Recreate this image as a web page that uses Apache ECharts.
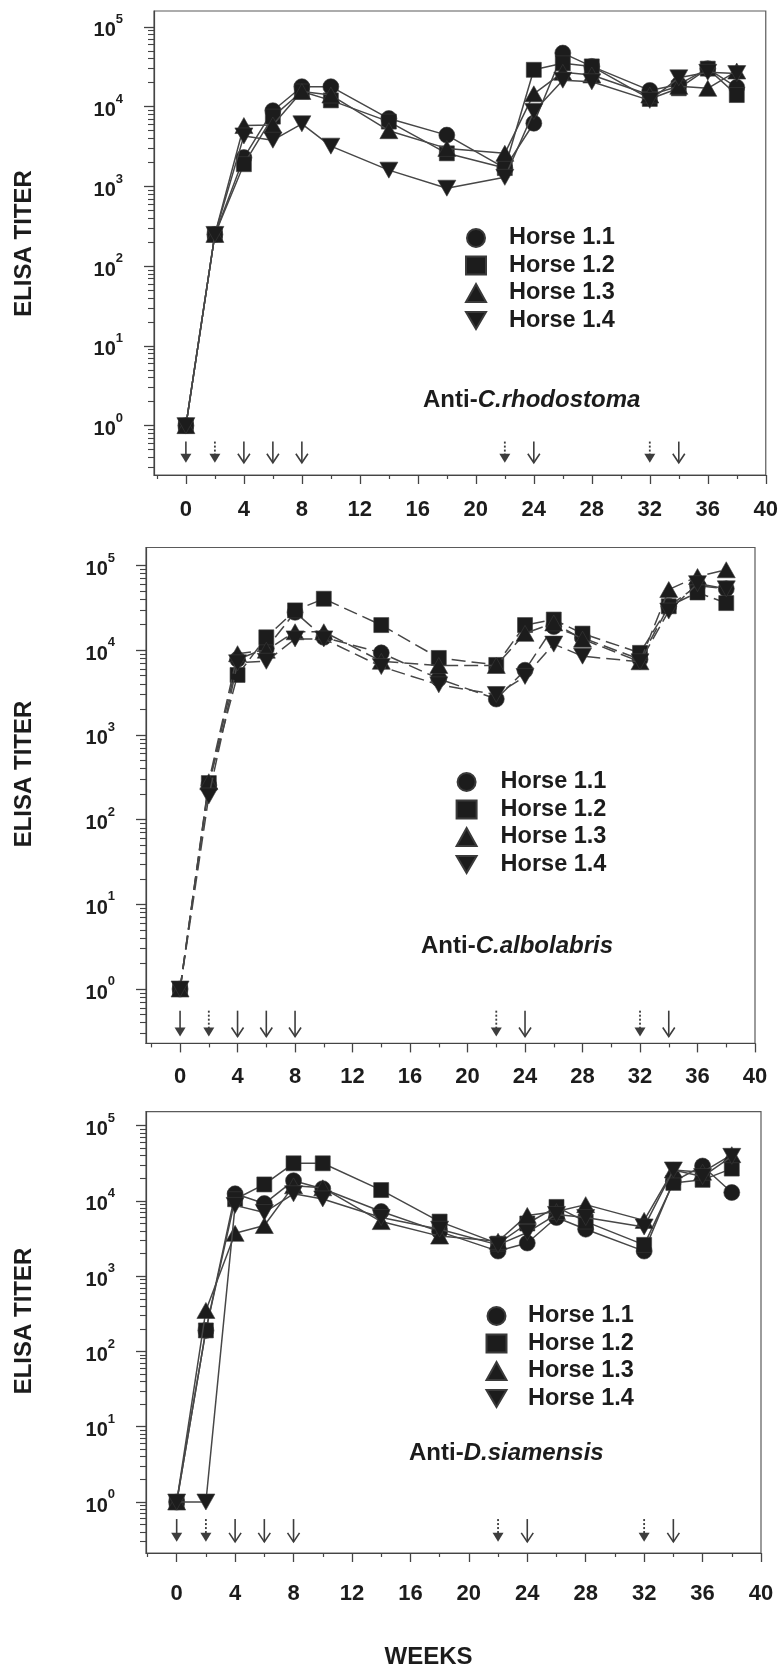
<!DOCTYPE html>
<html><head><meta charset="utf-8">
<script src="https://cdn.jsdelivr.net/npm/echarts@6/dist/echarts.min.js"></script>
<style>html,body{margin:0;padding:0;background:#fff;}#c{width:781px;height:1671px;}</style>
</head><body><div id="c"></div>
<script>
// ---------------- DATA ----------------
const weeks = [0, 2, 4, 6, 8, 10, 14, 18, 22, 24, 26, 28, 32, 34, 36, 38];
const horseNames = ['Horse 1.1', 'Horse 1.2', 'Horse 1.3', 'Horse 1.4'];

// Anti-C.rhodostoma
const rhodostoma_h11 = [1, 250, 2300, 8900, 17800, 17800, 7100, 4400, 1700, 6200, 47000, 32000, 16000, 19000, 30000, 17500];
const rhodostoma_h12 = [1, 250, 1900, 7500, 15500, 12000, 6500, 2600, 1700, 29000, 35000, 32000, 12500, 17000, 30000, 14000];
const rhodostoma_h13 = [1, 250, 5800, 5900, 15500, 14000, 5000, 3000, 2600, 14500, 27000, 25000, 14000, 18000, 17000, 28000];
const rhodostoma_h14 = [1, 250, 4300, 3800, 6100, 3200, 1600, 950, 1300, 8700, 21500, 20500, 12000, 23000, 27000, 26000];

// Anti-C.albolabris
const albolabris_h11 = [1, 255, 7800, 10500, 28000, 14200, 9300, 4600, 2650, 5800, 19000, 14000, 7800, 33000, 58000, 53000];
const albolabris_h12 = [1, 270, 5100, 14200, 29500, 40500, 19800, 8100, 6700, 19800, 23000, 15700, 9300, 33000, 48000, 36000];
const albolabris_h13 = [1, 280, 9100, 10000, 16500, 16500, 7400, 6600, 6600, 15800, 21000, 13500, 7300, 52000, 74000, 89000];
const albolabris_h14 = [1, 190, 7100, 7400, 13600, 13600, 6400, 3900, 3000, 4900, 11800, 8500, 7300, 29000, 61000, 53000];

// Anti-D.siamensis
const siamensis_h11 = [1, 190, 12400, 9200, 18500, 14500, 7200, 3900, 2150, 2750, 6000, 4200, 2150, 18000, 29000, 12900];
const siamensis_h12 = [1, 190, 10500, 16500, 31500, 31500, 13900, 5300, 2700, 5000, 8300, 5300, 2600, 17300, 19000, 26800];
const siamensis_h13 = [1, 350, 3700, 4700, 15800, 14900, 5300, 3400, 2900, 6400, 7200, 8900, 5500, 25700, 24000, 41000];
const siamensis_h14 = [1, 1, 8700, 7000, 12400, 10600, 6000, 4200, 2600, 3800, 6600, 6000, 4500, 25700, 21000, 39000];

const panelTitles = [['Anti-', 'C.rhodostoma'], ['Anti-', 'C.albolabris'], ['Anti-', 'D.siamensis']];
const majorWeekTicks = [0, 4, 8, 12, 16, 20, 24, 28, 32, 36, 40];
const minorWeekTicks = [-2, 2, 6, 10, 14, 18, 22, 26, 30, 34, 38];
const decadeTicks = [1, 10, 100, 1000, 10000, 100000];
// immunization arrows
const solidFilledArrowWeeks = [0];
const dottedArrowWeeks = [2, 22, 32];
const openArrowWeeks = [4, 6, 8, 24, 34];

const yAxisTitle = 'ELISA TITER';
const xAxisTitle = 'WEEKS';

// ---------------- LAYOUT ----------------
const FONT = '"Liberation Sans", Arial, Helvetica, sans-serif';
const panelSeries = [
  [rhodostoma_h11, rhodostoma_h12, rhodostoma_h13, rhodostoma_h14],
  [albolabris_h11, albolabris_h12, albolabris_h13, albolabris_h14],
  [siamensis_h11, siamensis_h12, siamensis_h13, siamensis_h14]
];
const panels = [
  {top: 11, bottom: 475, left: 154, right: 768, xmin: -2.2, ymin: 0.2404, ymax: 158489,
   arrowTop: 0.631, arrowTip: 0.343, labelMargin: 24, legendLeft: 465, legendTop: 226, legendPad: 18,
   titleX: 423, titleY: 401, yNameY: 243.5, dashed: false},
  {top: 547.5, bottom: 1043.4, left: 146, right: 755, xmin: -2.37, ymin: 0.228, ymax: 163100,
   arrowTop: 0.555, arrowTip: 0.275, labelMargin: 23, legendLeft: 455.6, legendTop: 770, legendPad: 19,
   titleX: 421, titleY: 947, yNameY: 774, dashed: true},
  {top: 1111.6, bottom: 1553, left: 146, right: 761, xmin: -2.1, ymin: 0.2104, ymax: 153100,
   arrowTop: 0.594, arrowTip: 0.296, labelMargin: 30, legendLeft: 485.5, legendTop: 1304, legendPad: 16.5,
   titleX: 409, titleY: 1454, yNameY: 1321, dashed: false}
];

const downTri = 'path://M0,0L20,0L10,17Z';
const symbols = ['circle', 'rect', 'triangle', downTri];
const symbolSizes = [16, 15, [18, 16], [18, 16]];
const legendIcons = ['circle', 'rect', 'triangle', downTri];

const minorDecadeTicks = [];
for (let e = -1; e <= 4; e++) for (let m = 2; m <= 9; m++) minorDecadeTicks.push(m * Math.pow(10, e));

const INK = '#1c1c1c';
const LINE = '#474747';

const grids = [], xAxes = [], yAxes = [], series = [], legends = [], graphics = [];

panels.forEach((p, pi) => {
  grids.push({left: p.left, top: p.top, width: p.right - p.left, height: p.bottom - p.top,
    show: true, borderColor: '#5a5a5a', borderWidth: 1.2, containLabel: false});
  xAxes.push({type: 'value', gridIndex: pi, position: 'bottom', min: p.xmin, max: 40,
    axisLine: {show: true, onZero: false, lineStyle: {color: '#444', width: 1.2}},
    axisTick: {show: true, inside: false, length: 9, customValues: majorWeekTicks, lineStyle: {color: '#444', width: 1.3}},
    axisLabel: {show: true, customValues: majorWeekTicks, margin: p.labelMargin, color: INK,
      fontFamily: FONT, fontSize: 22, fontWeight: 'bold'},
    splitLine: {show: false}});
  xAxes.push({type: 'value', gridIndex: pi, position: 'bottom', offset: 0, min: p.xmin, max: 40,
    axisLine: {show: false, onZero: false},
    axisTick: {show: true, inside: false, length: 4, customValues: minorWeekTicks, lineStyle: {color: '#444', width: 1.2}},
    axisLabel: {show: false}, splitLine: {show: false}});
  yAxes.push({type: 'log', logBase: 10, gridIndex: pi, position: 'left', min: p.ymin, max: p.ymax,
    axisLine: {show: true, onZero: false, lineStyle: {color: '#444', width: 1.2}},
    axisTick: {show: true, inside: false, length: 10, customValues: decadeTicks, lineStyle: {color: '#444', width: 1.3}},
    axisLabel: {show: true, customValues: decadeTicks, margin: 31,
      formatter: v => '{b|10}{s|' + Math.round(Math.log10(v)) + '}',
      rich: {
        b: {fontFamily: FONT, fontSize: 20, fontWeight: 'bold', color: INK, lineHeight: 28, verticalAlign: 'bottom'},
        s: {fontFamily: FONT, fontSize: 13, fontWeight: 'bold', color: INK, verticalAlign: 'top', lineHeight: 14}
      }},
    splitLine: {show: false}});
  yAxes.push({type: 'log', logBase: 10, gridIndex: pi, position: 'left', offset: 0, min: p.ymin, max: p.ymax,
    axisLine: {show: false, onZero: false},
    axisTick: {show: true, inside: false, length: 6, customValues: minorDecadeTicks, lineStyle: {color: '#444', width: 1.1}},
    axisLabel: {show: false}, splitLine: {show: false}});

  const xi = pi * 2, yi = pi * 2;
  panelSeries[pi].forEach((vals, hi) => {
    series.push({
      type: 'line', name: horseNames[hi], xAxisIndex: xi, yAxisIndex: yi,
      data: weeks.map((w, k) => [w, vals[k]]),
      symbol: symbols[hi], symbolSize: symbolSizes[hi], symbolKeepAspect: false,
      itemStyle: {color: INK, borderColor: '#3a3a3a', borderWidth: 0.6},
      lineStyle: {color: LINE, width: 1.5, type: p.dashed ? [14, 6] : 'solid'},
      z: 3 + hi, animation: false
    });
  });

  const arrowData = [];
  solidFilledArrowWeeks.forEach(w => arrowData.push([w, p.arrowTop, 1]));
  dottedArrowWeeks.forEach(w => arrowData.push([w, p.arrowTop, 2]));
  openArrowWeeks.forEach(w => arrowData.push([w, p.arrowTop, 3]));
  const tip = p.arrowTip;
  series.push({
    type: 'custom', xAxisIndex: xi, yAxisIndex: yi, data: arrowData, encode: {x: 0, y: 1},
    silent: true, animation: false, z: 2,
    renderItem: (params, api) => {
      const w = api.value(0), kind = api.value(2);
      const a = api.coord([w, api.value(1)]);
      const b = api.coord([w, tip]);
      const x = a[0], y0 = a[1], y1 = b[1];
      const st = {stroke: '#3d3d3d', lineWidth: 1.6, fill: null};
      if (kind === 3) {
        return {type: 'group', children: [
          {type: 'line', shape: {x1: x, y1: y0, x2: x, y2: y1}, style: st},
          {type: 'polyline', shape: {points: [[x - 6, y1 - 9], [x, y1], [x + 6, y1 - 9]]}, style: st}
        ]};
      }
      return {type: 'group', children: [
        {type: 'line', shape: {x1: x, y1: y0, x2: x, y2: y1 - 8},
          style: {stroke: '#3d3d3d', lineWidth: kind === 2 ? 1.8 : 1.6, lineDash: kind === 2 ? [2, 2] : null}},
        {type: 'polygon', shape: {points: [[x - 5.5, y1 - 9], [x + 5.5, y1 - 9], [x, y1]]}, style: {fill: '#3d3d3d', stroke: null}}
      ]};
    }
  });

  legends.push({
    orient: 'vertical', left: p.legendLeft, top: p.legendTop, padding: 0,
    itemWidth: 20, itemHeight: 18, itemGap: 3.5, selectedMode: false,
    data: horseNames.map((n, i) => ({name: n, icon: legendIcons[i]})),
    textStyle: {fontFamily: FONT, fontSize: 23.5, fontWeight: 'bold', color: INK, lineHeight: 24,
      padding: [0, 0, 0, p.legendPad]}
  });

  graphics.push({
    type: 'text', left: p.titleX, top: p.titleY - 13,
    style: {
      text: '{a|' + panelTitles[pi][0] + '}{i|' + panelTitles[pi][1] + '}',
      rich: {
        a: {fontFamily: FONT, fontSize: 24, fontWeight: 'bold', fill: INK},
        i: {fontFamily: FONT, fontSize: 24, fontWeight: 'bold', fontStyle: 'italic', fill: INK}
      }
    }
  });
  graphics.push({
    type: 'text', x: 24, y: p.yNameY, rotation: Math.PI / 2,
    style: {text: yAxisTitle, align: 'center', verticalAlign: 'middle',
      font: 'bold 24px ' + FONT, fill: INK}
  });
});

graphics.push({
  type: 'text', x: 428.5, y: 1657,
  style: {text: xAxisTitle, align: 'center', verticalAlign: 'middle', font: 'bold 24px ' + FONT, fill: INK}
});

const chart = echarts.init(document.getElementById('c'), null, {renderer: 'canvas'});
chart.setOption({
  animation: false,
  backgroundColor: '#ffffff',
  grid: grids, xAxis: xAxes, yAxis: yAxes, series: series, legend: legends, graphic: graphics
});
</script></body></html>
